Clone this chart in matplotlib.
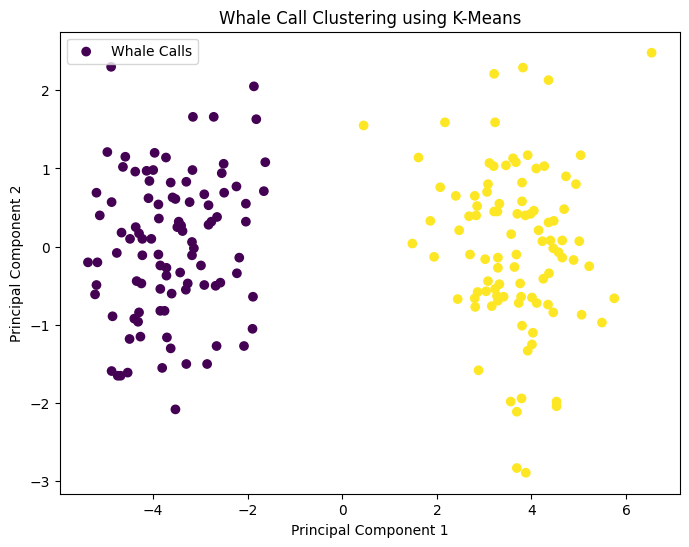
import numpy as np
import matplotlib
matplotlib.use("Agg")
import matplotlib.pyplot as plt

# Cluster 0 (left) principal components
pc1_c0 = [-4.89, -1.87, -3.16, -2.72, -1.82, -4.97, -4.59, -3.97, -3.73, -2.51,
          -1.63, -4.64, -4.38, -4.14, -4.00, -3.17, -2.55, -4.08, -3.63, -3.30,
          -2.24, -5.20, -4.88, -4.10, -3.89, -3.59, -3.53, -1.66, -3.23, -2.92,
          -2.50, -2.83, -2.04, -5.13, -3.88, -4.37, -4.67, -4.30, -4.49, -4.23,
          -4.04, -3.46, -3.41, -3.49, -3.38, -2.83, -2.77, -2.65, -2.04, -3.18,
          -3.14, -3.18, -4.77, -5.38, -5.18, -4.23, -3.89, -2.18, -2.99, -3.85,
          -3.72, -3.72, -3.43, -2.23, -5.20, -5.23, -4.35, -4.25, -3.85, -3.61,
          -3.27, -3.31, -2.92, -2.68, -2.58, -1.89, -4.86, -4.40, -4.30, -4.32,
          -3.85, -3.76, -4.50, -4.27, -3.71, -3.63, -1.90, -2.66, -2.08, -4.88,
          -4.75, -4.69, -4.54, -3.81, -3.30, -2.86, -3.53]
pc2_c0 = [2.30, 2.05, 1.66, 1.66, 1.63, 1.21, 1.15, 1.20, 1.14, 1.06,
          1.08, 1.02, 0.96, 0.97, 0.98, 0.98, 0.94, 0.84, 0.82, 0.83,
          0.77, 0.69, 0.57, 0.62, 0.54, 0.63, 0.61, 0.71, 0.57, 0.67,
          0.69, 0.53, 0.55, 0.40, 0.36, 0.25, 0.18, 0.17, 0.10, 0.10,
          0.10, 0.32, 0.27, 0.25, 0.20, 0.28, 0.32, 0.38, 0.32, 0.06,
          -0.02, -0.11, -0.08, -0.20, -0.20, -0.11, -0.10, -0.14, -0.24, -0.24,
          -0.27, -0.37, -0.33, -0.34, -0.49, -0.61, -0.44, -0.47, -0.54, -0.60,
          -0.47, -0.55, -0.49, -0.50, -0.46, -0.64, -0.89, -0.92, -0.84, -0.96,
          -0.82, -0.82, -1.18, -1.15, -1.16, -1.30, -1.05, -1.27, -1.27, -1.59,
          -1.65, -1.65, -1.61, -1.55, -1.50, -1.50, -2.08]

# Cluster 1 (right) principal components
pc1_c1 = [0.45, 2.17, 1.61, 2.07, 2.40, 1.86, 2.47, 1.48, 1.94, 3.21,
          3.82, 4.36, 3.23, 3.11, 3.20, 3.61, 3.67, 3.92, 3.46, 4.10,
          4.27, 4.73, 3.08, 3.80, 2.80, 3.06, 2.85, 3.32, 3.80, 2.68,
          2.83, 3.21, 3.28, 3.70, 3.87, 3.98, 4.05, 4.69, 4.36, 4.47,
          3.57, 4.15, 4.23, 4.40, 4.65, 4.46, 4.57, 2.70, 3.02, 3.29,
          3.68, 4.65, 6.54, 5.04, 4.94, 5.01, 4.89, 2.44, 3.29, 3.64,
          4.25, 4.37, 3.08, 3.32, 3.76, 2.86, 2.80, 3.04, 3.23, 3.27,
          3.41, 3.29, 2.81, 3.16, 3.78, 3.73, 4.01, 4.11, 4.35, 4.46,
          3.80, 4.03, 4.01, 3.92, 2.88, 3.56, 3.79, 3.69, 4.53, 4.53,
          3.69, 3.88, 5.22, 5.75, 5.06, 5.49]
pc2_c1 = [1.55, 1.59, 1.14, 0.76, 0.65, 0.33, 0.21, 0.04, -0.13, 2.21,
          2.29, 2.13, 1.59, 1.07, 1.03, 1.13, 1.08, 1.17, 1.04, 1.00,
          1.03, 0.90, 0.80, 0.82, 0.65, 0.70, 0.52, 0.55, 0.58, 0.39,
          0.40, 0.45, 0.45, 0.42, 0.40, 0.42, 0.46, 0.48, 0.31, 0.33,
          0.16, 0.21, 0.07, 0.08, 0.08, -0.02, -0.07, -0.10, -0.16, -0.14,
          -0.10, -0.14, 2.48, 1.17, 0.80, 0.07, -0.17, -0.67, -0.27, -0.26,
          -0.41, -0.34, -0.44, -0.48, -0.47, -0.58, -0.66, -0.57, -0.54, -0.63,
          -0.64, -0.69, -0.77, -0.76, -0.64, -0.72, -0.65, -0.72, -0.74, -0.84,
          -1.01, -1.10, -1.25, -1.33, -1.58, -1.98, -1.94, -2.11, -1.98, -2.04,
          -2.83, -2.89, -0.25, -0.66, -0.87, -0.97]

title = "Whale Call Clustering using K-Means"
xlabel = "Principal Component 1"
ylabel = "Principal Component 2"
legend_label = "Whale Calls"

x = np.array(pc1_c0 + pc1_c1)
y = np.array(pc2_c0 + pc2_c1)
labels = np.array([0] * len(pc1_c0) + [1] * len(pc1_c1))

fig, ax = plt.subplots(figsize=(8, 6), dpi=100)
ax.scatter(x, y, c=labels, cmap="viridis", label=legend_label)
ax.set_title(title)
ax.set_xlabel(xlabel)
ax.set_ylabel(ylabel)
ax.legend(loc="upper left")
fig.savefig("out.png", dpi=100, bbox_inches="tight")
